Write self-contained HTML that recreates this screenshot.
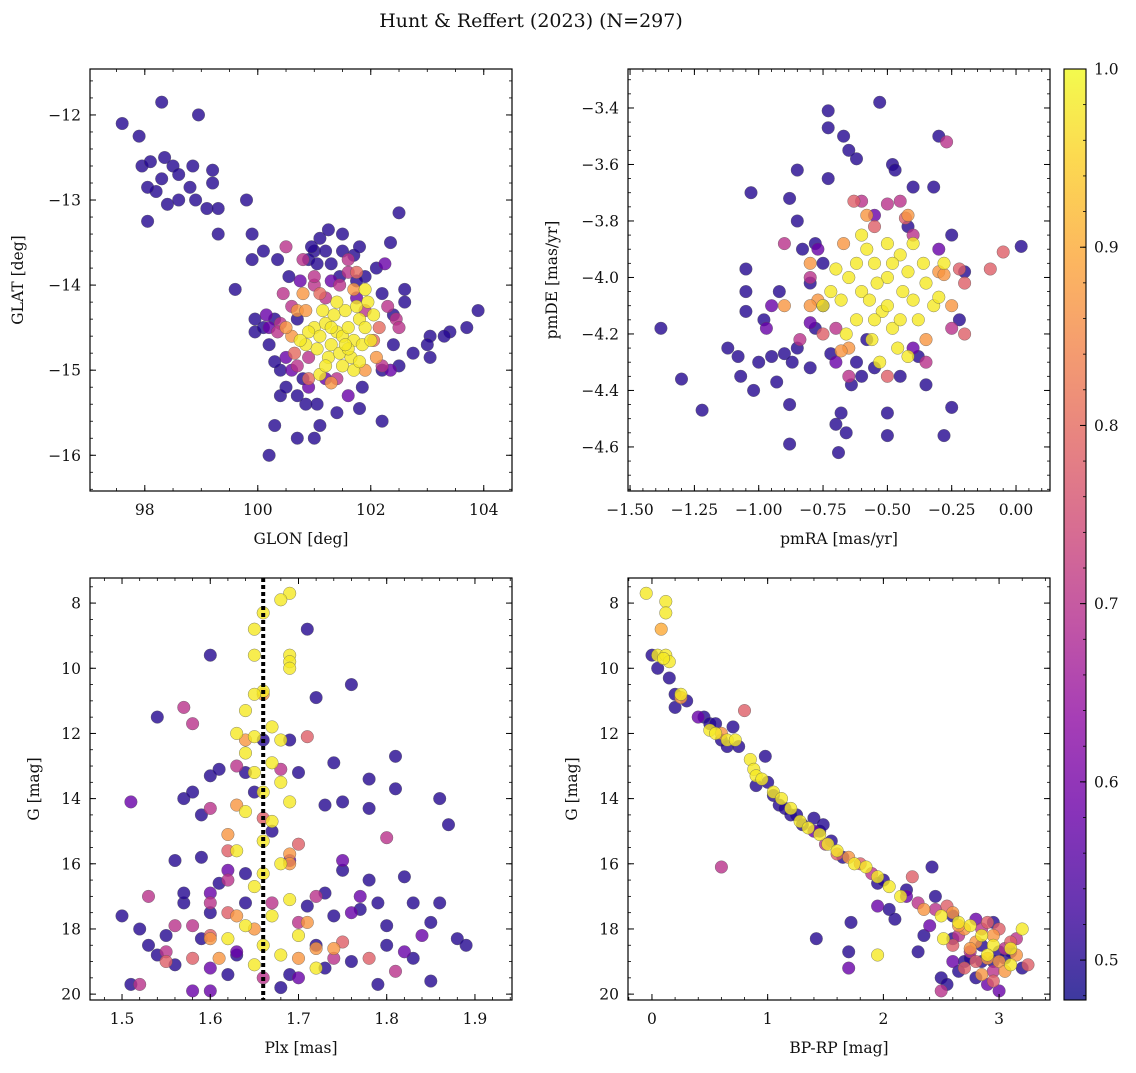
<!DOCTYPE html>
<html><head><meta charset="utf-8">
<style>
html,body{margin:0;padding:0;background:#fff;}
svg text{font-family:"DejaVu Serif","Liberation Serif",serif;fill:#111;}
</style></head>
<body>
<svg id="fig" width="1136" height="1068" viewBox="0 0 1136 1068" xmlns="http://www.w3.org/2000/svg">
<defs>
<linearGradient id="cbgrad" x1="0" y1="1" x2="0" y2="0">
<stop offset="0" stop-color="#0d0887"/><stop offset="0.1" stop-color="#41049d"/><stop offset="0.2" stop-color="#6a00a8"/><stop offset="0.3" stop-color="#8f0da4"/><stop offset="0.4" stop-color="#b12a90"/><stop offset="0.5" stop-color="#cc4778"/><stop offset="0.6" stop-color="#e16462"/><stop offset="0.7" stop-color="#f2844b"/><stop offset="0.8" stop-color="#fca636"/><stop offset="0.9" stop-color="#fcce25"/><stop offset="1" stop-color="#f0f921"/>
</linearGradient>
</defs>
<text x="531" y="27" text-anchor="middle" font-size="19">Hunt &amp; Reffert (2023) (N=297)</text>
</svg>
<script>
// ---- data (value, value, membership probability) ----
const lonLat = [
[101.0,-14.5,.98],[101.1,-14.6,.98],[101.2,-14.45,.98],[101.3,-14.7,.98],[101.4,-14.55,.98],[101.5,-14.6,.98],[101.6,-14.5,.98],[101.7,-14.65,.98],[101.8,-14.4,.98],[101.9,-14.5,.98],[101.35,-14.35,.98],[101.55,-14.3,.98],[101.75,-14.25,.98],[101.95,-14.2,.98],[101.25,-14.85,.98],[101.45,-14.8,.98],[101.65,-14.85,.98],[101.85,-14.7,.98],[102.0,-14.65,.98],[101.05,-14.75,.98],[100.9,-14.55,.98],[100.85,-14.7,.98],[101.15,-14.3,.98],[101.5,-14.95,.98],[101.7,-15.0,.98],[101.4,-14.2,.98],[101.6,-14.75,.98],[101.3,-14.5,.98],[101.8,-14.9,.98],[101.1,-15.05,.98],[102.05,-14.35,.98],[101.9,-14.05,.98],[100.75,-14.65,.98],[101.55,-14.7,.98],[101.2,-14.95,.98],
[100.6,-14.6,.87],[100.7,-14.3,.87],[100.5,-14.5,.87],[100.85,-14.3,.87],[101.3,-15.15,.87],[101.9,-15.0,.87],[102.1,-14.85,.87],[100.8,-14.1,.87],[101.7,-14.05,.87],[102.15,-14.5,.8],[100.9,-15.1,.8],[101.1,-14.1,.8],[101.75,-13.85,.8],[100.65,-14.8,.8],[102.05,-14.65,.8],
[100.4,-14.45,.7],[100.6,-14.25,.7],[100.8,-13.7,.7],[100.5,-13.55,.7],[101.0,-14.0,.7],[102.3,-14.25,.7],[102.45,-14.4,.7],[101.6,-13.85,.7],[101.6,-13.7,.7],[101.9,-14.3,.7],[101.4,-15.1,.7],[100.7,-14.95,.7],[102.2,-14.95,.7],[100.45,-14.1,.7],[101.0,-13.9,.7],[100.35,-14.55,.7],[102.5,-14.5,.7],[101.2,-14.15,.7],[100.9,-14.85,.7],[101.45,-14.0,.7],
[100.2,-14.5,.58],[100.15,-14.35,.58],[100.5,-14.85,.58],[100.6,-15.0,.58],[101.2,-15.1,.58],[102.35,-15.0,.58],[100.9,-15.2,.58],[101.6,-15.3,.58],[101.75,-14.15,.58],[101.3,-13.95,.58],[100.75,-13.95,.58],[102.25,-13.75,.58],
[97.6,-12.1,.5],[97.9,-12.25,.5],[97.95,-12.6,.5],[98.1,-12.55,.5],[98.3,-11.85,.5],[98.35,-12.5,.5],[98.5,-12.6,.5],[98.6,-12.7,.5],[98.2,-12.9,.5],[98.05,-12.85,.5],[98.4,-13.05,.5],[98.6,-13.0,.5],[98.8,-12.85,.5],[98.9,-13.0,.5],[98.85,-12.6,.5],[98.95,-12.0,.5],[99.2,-12.65,.5],[99.2,-12.8,.5],[99.1,-13.1,.5],[99.3,-13.1,.5],[99.3,-13.4,.5],[98.05,-13.25,.5],[98.3,-12.75,.5],[99.8,-13.0,.5],[99.9,-13.4,.5],[99.9,-13.7,.5],[99.6,-14.05,.5],[100.1,-13.6,.5],[100.35,-13.7,.5],[101.1,-13.45,.5],[101.25,-13.35,.5],[101.0,-13.6,.5],[100.9,-13.7,.5],[101.2,-13.6,.5],[101.5,-13.4,.5],[101.7,-13.65,.5],[101.9,-13.9,.5],[102.35,-13.5,.5],[102.5,-13.15,.5],[102.6,-14.05,.5],[102.4,-14.35,.5],[102.75,-14.8,.5],[103.05,-14.6,.5],[103.0,-14.7,.5],[103.4,-14.55,.5],[103.3,-14.6,.5],[103.9,-14.3,.5],[103.7,-14.5,.5],[103.05,-14.85,.5],[102.5,-14.95,.5],[102.2,-15.6,.5],[101.4,-15.5,.5],[101.1,-15.65,.5],[101.0,-15.8,.5],[100.7,-15.8,.5],[100.3,-15.65,.5],[100.2,-16.0,.5],[100.4,-15.3,.5],[100.7,-15.3,.5],[100.4,-15.0,.5],[99.95,-14.4,.5],[99.95,-14.55,.5],[100.1,-14.5,.5],[100.8,-15.1,.5],[101.85,-15.2,.5],[100.55,-13.9,.5],[100.7,-14.4,.5],[101.5,-13.6,.5],[101.8,-13.55,.5],[102.1,-13.8,.5],[100.3,-14.4,.5],[100.95,-13.55,.5],[101.05,-13.75,.5],[101.3,-13.75,.5],[101.75,-13.95,.5],[102.2,-14.1,.5],[102.6,-14.2,.5],[100.85,-15.4,.5],[101.05,-15.4,.5],[101.8,-15.45,.5],[102.2,-15.0,.5],[102.4,-14.7,.5],[100.3,-14.9,.5],[100.5,-15.2,.5],[100.2,-14.7,.5],[101.45,-13.9,.5]
];
const pmRaDe = [
[-0.5,-4.0,.98],[-0.55,-3.95,.98],[-0.45,-3.92,.98],[-0.6,-4.05,.98],[-0.4,-4.08,.98],[-0.52,-4.12,.98],[-0.48,-4.18,.98],[-0.58,-3.9,.98],[-0.42,-3.98,.98],[-0.65,-4.0,.98],[-0.35,-4.02,.98],[-0.56,-4.22,.98],[-0.46,-4.25,.98],[-0.62,-4.15,.98],[-0.38,-4.15,.98],[-0.68,-4.08,.98],[-0.32,-4.1,.98],[-0.5,-3.88,.98],[-0.53,-4.3,.98],[-0.44,-4.05,.98],[-0.57,-4.08,.98],[-0.7,-3.97,.98],[-0.3,-4.07,.98],[-0.6,-3.85,.98],[-0.4,-3.88,.98],[-0.48,-3.95,.98],[-0.54,-4.02,.98],[-0.66,-4.2,.98],[-0.36,-3.95,.98],[-0.75,-4.1,.98],[-0.28,-3.95,.98],[-0.5,-4.1,.98],[-0.62,-3.95,.98],[-0.45,-4.15,.98],[-0.55,-4.15,.98],[-0.42,-4.28,.98],[-0.72,-4.05,.98],
[-0.77,-4.08,.87],[-0.8,-4.1,.87],[-0.3,-3.98,.87],[-0.35,-4.22,.87],[-0.65,-4.25,.87],[-0.67,-3.88,.87],[-0.58,-3.78,.87],[-0.42,-3.78,.87],[-0.9,-4.1,.87],[-0.8,-3.95,.87],[-0.25,-4.1,.87],[-0.28,-3.99,.87],[-0.68,-4.26,.87],
[-0.63,-3.73,.78],[-0.43,-3.79,.78],[-0.2,-4.02,.78],[-0.1,-3.97,.78],[-0.05,-3.91,.78],[-0.2,-4.2,.78],[-0.22,-3.97,.78],[-0.55,-3.82,.78],[-0.75,-4.2,.78],[-0.5,-4.35,.78],
[-0.27,-3.52,.7],[-0.6,-3.73,.7],[-0.5,-3.74,.7],[-0.7,-4.18,.7],[-0.84,-4.22,.7],[-0.9,-3.88,.7],[-0.4,-3.85,.7],[-0.35,-4.3,.7],[-0.65,-4.35,.7],[-0.8,-4.0,.7],[-0.25,-4.18,.7],[-0.45,-3.73,.7],
[-0.97,-4.18,.58],[-0.95,-4.1,.58],[-0.8,-4.16,.58],[-0.55,-3.78,.58],[-0.7,-4.3,.58],[-0.4,-4.25,.58],[-0.3,-3.9,.58],[-0.77,-3.9,.58],
[-1.38,-4.18,.5],[-1.3,-4.36,.5],[-1.22,-4.47,.5],[-1.12,-4.25,.5],[-1.08,-4.28,.5],[-1.07,-4.35,.5],[-1.05,-3.97,.5],[-1.05,-4.05,.5],[-1.05,-4.12,.5],[-1.03,-3.7,.5],[-1.02,-4.4,.5],[-1.0,-4.3,.5],[-0.98,-4.15,.5],[-0.95,-4.28,.5],[-0.93,-4.37,.5],[-0.9,-4.27,.5],[-0.88,-3.72,.5],[-0.88,-4.59,.5],[-0.88,-4.45,.5],[-0.87,-4.3,.5],[-0.85,-3.62,.5],[-0.85,-3.8,.5],[-0.83,-3.9,.5],[-0.8,-4.02,.5],[-0.8,-4.32,.5],[-0.78,-3.88,.5],[-0.78,-4.18,.5],[-0.75,-3.95,.5],[-0.75,-4.1,.5],[-0.73,-3.41,.5],[-0.73,-3.47,.5],[-0.73,-3.65,.5],[-0.72,-4.27,.5],[-0.7,-4.52,.5],[-0.69,-4.62,.5],[-0.68,-4.48,.5],[-0.67,-3.5,.5],[-0.66,-4.55,.5],[-0.65,-3.55,.5],[-0.64,-4.38,.5],[-0.62,-3.58,.5],[-0.6,-4.35,.5],[-0.58,-4.22,.5],[-0.55,-4.32,.5],[-0.53,-3.38,.5],[-0.5,-4.48,.5],[-0.5,-4.56,.5],[-0.48,-3.6,.5],[-0.47,-3.62,.5],[-0.45,-4.35,.5],[-0.42,-3.82,.5],[-0.4,-3.68,.5],[-0.38,-4.28,.5],[-0.35,-4.38,.5],[-0.32,-3.68,.5],[-0.3,-3.5,.5],[-0.28,-4.56,.5],[-0.25,-3.85,.5],[-0.22,-4.15,.5],[-0.2,-3.98,.5],[-0.25,-4.46,.5],[0.02,-3.89,.5],[-0.62,-4.3,.5],[-0.85,-4.25,.5],[-0.92,-4.05,.5]
];
const plxG = [
[1.69,7.7,.98],[1.68,7.9,.98],[1.66,8.3,.98],[1.65,8.8,.98],[1.69,9.6,.98],[1.65,9.6,.98],[1.69,9.8,.98],[1.69,10.0,.98],[1.66,10.7,.98],[1.65,10.8,.98],[1.64,11.3,.98],[1.67,11.8,.98],[1.63,12.0,.98],[1.65,12.1,.98],[1.68,12.2,.98],[1.64,12.6,.98],[1.67,12.9,.98],[1.65,13.2,.98],[1.68,13.5,.98],[1.66,13.8,.98],[1.69,14.1,.98],[1.64,14.4,.98],[1.67,14.7,.98],[1.66,15.3,.98],[1.63,15.6,.98],[1.68,16.0,.98],[1.66,16.3,.98],[1.65,16.7,.98],[1.69,17.1,.98],[1.67,17.6,.98],[1.64,17.9,.98],[1.7,18.2,.98],[1.66,18.5,.98],[1.68,18.8,.98],[1.62,18.3,.98],[1.72,19.2,.98],[1.65,19.1,.98],
[1.66,10.8,.87],[1.64,12.2,.87],[1.62,15.1,.87],[1.69,15.7,.87],[1.69,16.0,.87],[1.63,17.6,.87],[1.72,18.6,.87],[1.7,18.9,.87],[1.6,18.3,.87],[1.74,18.6,.87],[1.65,18.0,.87],[1.61,18.9,.87],[1.71,17.8,.87],[1.63,14.2,.87],
[1.7,15.4,.78],[1.62,15.6,.78],[1.66,14.6,.78],[1.58,18.9,.78],[1.6,18.2,.78],[1.75,18.4,.78],[1.71,12.1,.78],[1.62,17.5,.78],[1.78,18.9,.78],[1.55,19.0,.78],
[1.57,11.2,.7],[1.58,11.7,.7],[1.68,13.1,.7],[1.63,13.0,.7],[1.6,14.3,.7],[1.55,18.7,.7],[1.58,17.9,.7],[1.6,17.2,.7],[1.62,16.5,.7],[1.67,17.2,.7],[1.7,17.8,.7],[1.53,17.0,.7],[1.72,17.0,.7],[1.74,18.9,.7],[1.52,19.7,.7],[1.56,17.9,.7],[1.81,19.3,.7],[1.8,15.2,.7],[1.66,19.5,.7],
[1.51,14.1,.58],[1.62,16.2,.58],[1.69,15.9,.58],[1.75,15.9,.58],[1.77,17.0,.58],[1.7,19.5,.58],[1.6,19.9,.58],[1.58,19.9,.58],[1.82,18.7,.58],[1.76,17.5,.58],[1.63,18.7,.58],[1.6,19.2,.58],[1.84,18.2,.58],[1.6,16.9,.58],
[1.5,17.6,.5],[1.51,19.7,.5],[1.53,18.5,.5],[1.54,11.5,.5],[1.55,18.2,.5],[1.56,15.9,.5],[1.57,14.0,.5],[1.58,13.8,.5],[1.57,17.2,.5],[1.59,18.3,.5],[1.59,14.5,.5],[1.6,9.6,.5],[1.6,13.3,.5],[1.61,13.1,.5],[1.61,16.6,.5],[1.6,17.5,.5],[1.63,18.8,.5],[1.64,17.2,.5],[1.64,13.2,.5],[1.65,13.8,.5],[1.69,12.2,.5],[1.71,8.8,.5],[1.72,10.9,.5],[1.73,14.2,.5],[1.73,16.9,.5],[1.75,14.1,.5],[1.76,10.5,.5],[1.74,17.6,.5],[1.77,17.4,.5],[1.78,16.5,.5],[1.78,14.3,.5],[1.78,13.4,.5],[1.79,17.2,.5],[1.8,18.5,.5],[1.81,12.7,.5],[1.81,13.7,.5],[1.82,16.4,.5],[1.83,17.2,.5],[1.85,17.8,.5],[1.86,14.0,.5],[1.86,17.2,.5],[1.87,14.8,.5],[1.88,18.3,.5],[1.89,18.5,.5],[1.85,19.6,.5],[1.79,19.7,.5],[1.72,18.5,.5],[1.73,19.2,.5],[1.69,19.4,.5],[1.67,15.0,.5],[1.68,19.8,.5],[1.56,19.1,.5],[1.54,18.8,.5],[1.76,19.0,.5],[1.62,19.4,.5],[1.59,15.8,.5],[1.7,13.2,.5],[1.74,12.9,.5],[1.52,18.0,.5],[1.57,16.9,.5],[1.8,17.9,.5],[1.83,18.9,.5],[1.71,17.3,.5],[1.75,16.2,.5],[1.66,12.2,.5],[1.64,16.3,.5]
];
const colorG = [
[-0.05,7.7,.98],[0.12,7.95,.98],[0.12,8.3,.98],[0.08,8.8,.9],[0.05,9.6,.98],[0.12,9.6,.98],[0.15,9.8,.98],[0.25,10.8,.98],[0.5,11.9,.98],[0.55,12.0,.98],[0.65,12.2,.98],[0.72,12.2,.98],[0.85,12.8,.98],[0.88,13.1,.98],[0.9,13.3,.98],[0.95,13.4,.98],[1.05,13.8,.98],[1.12,14.0,.98],[1.2,14.3,.98],[1.28,14.7,.98],[1.35,14.9,.98],[1.45,15.1,.98],[1.52,15.4,.98],[1.6,15.6,.98],[1.75,16.0,.98],[1.85,16.1,.98],[1.95,16.4,.98],[2.05,16.7,.98],[2.15,17.0,.98],[2.5,17.6,.98],[2.65,17.8,.98],[2.75,17.9,.98],[2.85,18.2,.98],[2.95,18.5,.98],[3.1,18.6,.98],[3.2,18.0,.98],[1.95,18.8,.98],[2.52,18.3,.98],[3.1,19.1,.98],[2.9,18.8,.98],[0.1,9.7,.98],
[0.25,10.9,.87],[0.6,12.0,.87],[2.6,17.5,.87],[2.7,18.0,.87],[2.8,18.4,.87],[2.9,18.9,.87],[3.0,19.0,.87],[2.95,18.2,.87],[3.05,19.3,.87],[2.85,19.4,.87],[2.75,18.6,.87],[3.15,18.8,.87],[1.7,15.8,.87],[2.35,17.4,.87],[2.65,17.9,.87],
[0.8,11.3,.78],[1.6,15.7,.78],[1.8,16.0,.78],[2.25,16.4,.78],[2.6,18.5,.78],[2.8,19.0,.78],[3.0,18.0,.78],[2.95,19.6,.78],[3.1,18.4,.78],[2.7,19.2,.78],[3.25,19.1,.78],[2.9,17.8,.78],[2.55,17.3,.78],
[0.6,16.1,.7],[1.5,15.4,.7],[2.3,17.2,.7],[2.45,17.4,.7],[2.5,19.9,.7],[2.75,18.7,.7],[3.05,18.6,.7],[2.85,18.0,.7],[2.95,19.3,.7],[3.15,18.3,.7],[2.65,18.2,.7],[1.9,16.3,.7],
[1.7,19.2,.58],[2.2,17.0,.58],[2.8,17.7,.58],[3.0,19.9,.58],[2.6,19.0,.58],[2.9,19.7,.58],[2.4,17.9,.58],[1.95,17.3,.58],[1.4,15.0,.58],[0.4,11.5,.58],
[0.0,9.6,.5],[0.05,10.0,.5],[0.15,10.3,.5],[0.2,10.8,.5],[0.2,11.2,.5],[0.3,11.0,.5],[0.45,11.5,.5],[0.5,11.7,.5],[0.55,11.7,.5],[0.6,12.2,.5],[0.65,12.4,.5],[0.7,11.8,.5],[0.75,12.4,.5],[0.98,12.7,.5],[1.0,13.5,.5],[1.05,13.9,.5],[1.1,14.2,.5],[1.15,14.3,.5],[1.25,14.5,.5],[1.3,14.8,.5],[1.4,14.6,.5],[1.45,15.0,.5],[1.48,14.8,.5],[1.55,15.3,.5],[1.65,15.8,.5],[1.72,17.8,.5],[1.42,18.3,.5],[1.7,18.7,.5],[1.95,16.6,.5],[2.0,16.5,.5],[2.05,17.4,.5],[2.1,17.7,.5],[2.2,16.8,.5],[2.35,18.2,.5],[2.3,18.7,.5],[2.42,16.1,.5],[2.45,17.0,.5],[2.5,19.5,.5],[2.55,19.7,.5],[2.6,18.3,.5],[2.65,19.3,.5],[2.7,19.0,.5],[2.75,18.9,.5],[2.8,19.5,.5],[2.85,19.0,.5],[2.95,19.0,.5],[3.0,18.7,.5],[3.05,18.9,.5],[3.1,18.7,.5],[3.2,19.2,.5],[2.85,18.5,.5],[0.9,13.6,.5],[1.2,14.5,.5],[2.6,17.6,.5],[2.95,17.8,.5]
];
const lonTicks = [98,100,102,104];
const latTicks = [-12,-13,-14,-15,-16];
const pmraTicks = [-1.5,-1.25,-1.0,-0.75,-0.5,-0.25,0.0];
const pmdeTicks = [-3.4,-3.6,-3.8,-4.0,-4.2,-4.4,-4.6];
const plxTicks = [1.5,1.6,1.7,1.8,1.9];
const gTicks = [8,10,12,14,16,18,20];
const bprpTicks = [0,1,2,3];
const cbTicks = [0.5,0.6,0.7,0.8,0.9,1.0];
const plxMean = 1.66;
const pMin = 0.4776, pMax = 1.0;

const NS = "http://www.w3.org/2000/svg";
const svg = document.getElementById('fig');
function mk(tag, attrs, parent){ const e=document.createElementNS(NS,tag); for(const k in attrs) e.setAttribute(k,attrs[k]); (parent||svg).appendChild(e); return e; }
const stops=[[13,8,135],[65,4,157],[106,0,168],[143,13,164],[177,42,144],[204,71,120],[225,100,98],[242,132,75],[252,166,54],[252,206,37],[240,249,33]];
function plasma(p){ let t=(p-pMin)/(pMax-pMin); t=Math.max(0,Math.min(1,t))*10; const i=Math.min(9,Math.floor(t)), f=t-i; const a=stops[i], b=stops[i+1]; return 'rgb('+a.map((v,k)=>Math.round(v+(b[k]-v)*f)).join(',')+')'; }
function fmt(v,d){ const s=Math.abs(v).toFixed(d); return (v<0?'\u2212':'')+s; }

function panel(c){
  const g = mk('g',{});
  
  
  const sx=v=>c.x0+(v-c.xl)/(c.xr-c.xl)*c.w;
  const sy=v=>c.y0+(v-c.yt)/(c.yb-c.yt)*c.h;
  const pts=c.data.slice().sort((a,b)=>a[2]-b[2]);
  const clip='clip-'+c.name;
  const cp=mk('clipPath',{id:clip},g); mk('rect',{x:c.x0,y:c.y0,width:c.w,height:c.h},cp);
  const pg=mk('g',{'clip-path':'url(#'+clip+')'},g);
  
  
  pts.forEach(d=>{
    const ci=mk('circle',{cx:sx(d[0]).toFixed(1),cy:sy(d[1]).toFixed(1),r:6.3,fill:plasma(d[2]),'fill-opacity':0.8,stroke:'#555','stroke-width':0.35},pg);
    
    
  });
  if(c.vline!==undefined){
    const l=mk('line',{x1:sx(c.vline),x2:sx(c.vline),y1:c.y0,y2:c.y0+c.h,stroke:'#000','stroke-width':4,'stroke-dasharray':'4 3'},g);
    
    
  }
  mk('rect',{x:c.x0,y:c.y0,width:c.w,height:c.h,fill:'none',stroke:'#000','stroke-width':1.2},g);
  const lo=Math.min(c.xl,c.xr), hi=Math.max(c.xl,c.xr);
  for(let v=Math.ceil(lo/c.xm-1e-6)*c.xm; v<=hi+1e-9; v+=c.xm){ const x=sx(v); mk('line',{x1:x,x2:x,y1:c.y0+c.h,y2:c.y0+c.h-3,stroke:'#000','stroke-width':0.8},g); mk('line',{x1:x,x2:x,y1:c.y0,y2:c.y0+3,stroke:'#000','stroke-width':0.8},g); }
  const ylo=Math.min(c.yt,c.yb), yhi=Math.max(c.yt,c.yb);
  for(let v=Math.ceil(ylo/c.ym-1e-6)*c.ym; v<=yhi+1e-9; v+=c.ym){ const y=sy(v); mk('line',{x1:c.x0,x2:c.x0+3,y1:y,y2:y,stroke:'#000','stroke-width':0.8},g); mk('line',{x1:c.x0+c.w,x2:c.x0+c.w-3,y1:y,y2:y,stroke:'#000','stroke-width':0.8},g); }
  c.xt.forEach(v=>{ const x=sx(v); mk('line',{x1:x,x2:x,y1:c.y0+c.h,y2:c.y0+c.h-6,stroke:'#000','stroke-width':1},g); mk('line',{x1:x,x2:x,y1:c.y0,y2:c.y0+6,stroke:'#000','stroke-width':1},g);
    const t=mk('text',{x:x,y:c.y0+c.h+24,'text-anchor':'middle','font-size':15.5},g); t.textContent=fmt(v,c.xd);
      });
  c.yt2.forEach(v=>{ const y=sy(v); mk('line',{x1:c.x0,x2:c.x0+6,y1:y,y2:y,stroke:'#000','stroke-width':1},g); mk('line',{x1:c.x0+c.w,x2:c.x0+c.w-6,y1:y,y2:y,stroke:'#000','stroke-width':1},g);
    const t=mk('text',{x:c.x0-9,y:y+5.5,'text-anchor':'end','font-size':15.5},g); t.textContent=fmt(v,c.yd);
      });
  const xl=mk('text',{x:c.x0+c.w/2,y:c.y0+c.h+53,'text-anchor':'middle','font-size':15.5},g); xl.textContent=c.xlabel;
   
  const yl=mk('text',{x:0,y:0,'text-anchor':'middle','font-size':15.5,transform:'translate('+c.ylx+','+(c.y0+c.h/2)+') rotate(-90)'},g); yl.textContent=c.ylabel;
   
}

panel({name:'glon-glat-panel',x0:90,y0:69,w:422,h:422,xl:97.03,xr:104.5,yt:-11.46,yb:-16.42,xt:lonTicks,yt2:latTicks,xm:0.5,ym:0.2,xd:0,yd:0,xlabel:'GLON [deg]',ylabel:'GLAT [deg]',ylx:23,data:lonLat});
panel({name:'pm-panel',x0:628,y0:69,w:422,h:422,xl:-1.508,xr:0.132,yt:-3.262,yb:-4.756,xt:pmraTicks,yt2:pmdeTicks,xm:0.05,ym:0.05,xd:2,yd:1,xlabel:'pmRA [mas/yr]',ylabel:'pmDE [mas/yr]',ylx:557,data:pmRaDe});
panel({name:'plx-g-panel',x0:90,y0:578,w:422,h:422,xl:1.4637,xr:1.942,yt:7.23,yb:20.18,xt:plxTicks,yt2:gTicks,xm:0.02,ym:0.5,xd:1,yd:0,xlabel:'Plx [mas]',ylabel:'G [mag]',ylx:39,data:plxG,vline:plxMean});
panel({name:'cmd-panel',x0:628,y0:578,w:422,h:422,xl:-0.207,xr:3.44,yt:7.23,yb:20.18,xt:bprpTicks,yt2:gTicks,xm:0.2,ym:0.5,xd:0,yd:0,xlabel:'BP-RP [mag]',ylabel:'G [mag]',ylx:577,data:colorG});

// colorbar
const cb=mk('g',{});


const cbX=1064, cbY=69, cbW=22, cbH=931;
mk('rect',{x:cbX,y:cbY,width:cbW,height:cbH,fill:'url(#cbgrad)','fill-opacity':0.8},cb);
mk('rect',{x:cbX,y:cbY,width:cbW,height:cbH,fill:'none',stroke:'#000','stroke-width':1.1},cb);
const cy=v=>cbY+(pMax-v)/(pMax-pMin)*cbH;
for(let v=0.48; v<=1.0001; v+=0.02){ const y=cy(v); mk('line',{x1:cbX+cbW,x2:cbX+cbW-3,y1:y,y2:y,stroke:'#000','stroke-width':0.8},cb); }
cbTicks.forEach(v=>{ const y=cy(v); mk('line',{x1:cbX+cbW,x2:cbX+cbW-6,y1:y,y2:y,stroke:'#000','stroke-width':1},cb);
  const t=mk('text',{x:cbX+cbW+8,y:y+5.5,'font-size':15.5},cb); t.textContent=v.toFixed(1);
    });
</script>
</body></html>
